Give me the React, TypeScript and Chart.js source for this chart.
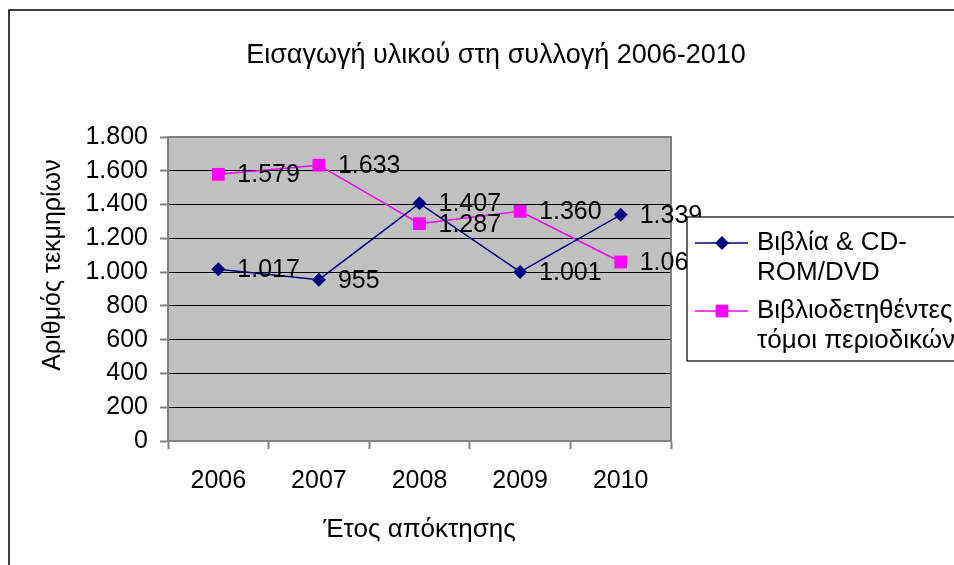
import React, { useEffect, useRef } from 'react';
import { Chart, registerables } from 'chart.js';

Chart.register(...registerables);

const chartTitle = 'Εισαγωγή υλικού στη συλλογή 2006-2010';
const xAxisTitle = 'Έτος απόκτησης';
const yAxisTitle = 'Αριθμός τεκμηρίων';
const years = ['2006', '2007', '2008', '2009', '2010'];
const booksLabel = ['Βιβλία & CD-', 'ROM/DVD'];
const journalsLabel = ['Βιβλιοδετηθέντες', 'τόμοι περιοδικών'];
const booksValues = [1017, 955, 1407, 1001, 1339];
const journalsValues = [1579, 1633, 1287, 1360, 1060];
const yMin = 0;
const yMax = 1800;
const yStep = 200;

const FONT = '"Liberation Sans", Arial, sans-serif';

const fmt = (v: number) => String(v).replace(/\B(?=(\d{3})+(?!\d))/g, '.');

function drawMarker(ctx: CanvasRenderingContext2D, style: string, x: number, y: number, r: number, color: string) {
  ctx.save();
  ctx.fillStyle = color;
  ctx.beginPath();
  if (style === 'rect') {
    const s = r * Math.SQRT1_2;
    ctx.rect(x - s, y - s, 2 * s, 2 * s);
  } else {
    ctx.moveTo(x - r, y);
    ctx.lineTo(x, y - r);
    ctx.lineTo(x + r, y);
    ctx.lineTo(x, y + r);
    ctx.closePath();
  }
  ctx.fill();
  ctx.restore();
}

const excelPlugin = {
  id: 'excelLook',
  beforeDraw(chart: any) {
    const { ctx, chartArea: a } = chart;
    ctx.save();
    ctx.fillStyle = '#C0C0C0';
    ctx.fillRect(a.left, a.top, a.right - a.left, a.bottom - a.top);
    ctx.strokeStyle = '#000';
    ctx.lineWidth = 1.5;
    ctx.strokeRect(9, 10, 1000, 600);
    ctx.fillStyle = '#000';
    ctx.textAlign = 'center';
    ctx.textBaseline = 'middle';
    ctx.font = `27px ${FONT}`;
    ctx.fillText(chartTitle, 496, 56);
    ctx.font = `26px ${FONT}`;
    ctx.fillText(xAxisTitle, (a.left + a.right) / 2, 530);
    ctx.font = `25px ${FONT}`;
    ctx.translate(53, 265);
    ctx.rotate(-Math.PI / 2);
    ctx.fillText(yAxisTitle, 0, 0);
    ctx.restore();
  },
  beforeDatasetsDraw(chart: any) {
    const { ctx, chartArea: a } = chart;
    ctx.save();
    ctx.strokeStyle = '#808080';
    ctx.lineWidth = 2;
    ctx.strokeRect(a.left, a.top, a.right - a.left, a.bottom - a.top);
    ctx.restore();
  },
  afterDatasetsDraw(chart: any) {
    const { ctx } = chart;
    ctx.save();
    ctx.fillStyle = '#000';
    ctx.font = `25px ${FONT}`;
    ctx.textAlign = 'left';
    ctx.textBaseline = 'middle';
    chart.data.datasets.forEach((ds: any, i: number) => {
      const meta = chart.getDatasetMeta(i);
      meta.data.forEach((pt: any, j: number) => {
        ctx.fillText(fmt(ds.data[j]), pt.x + 19, pt.y + 1);
      });
    });
    ctx.restore();
  },
  afterDraw(chart: any) {
    const { ctx } = chart;
    ctx.save();
    ctx.fillStyle = '#fff';
    ctx.fillRect(687, 217, 300, 144);
    ctx.strokeStyle = '#000';
    ctx.lineWidth = 1.2;
    ctx.strokeRect(687, 217, 300, 144);
    const labels = [booksLabel, journalsLabel];
    chart.data.datasets.forEach((ds: any, i: number) => {
      const y = 243 + i * 68;
      ctx.strokeStyle = ds.borderColor;
      ctx.lineWidth = 1.5;
      ctx.beginPath();
      ctx.moveTo(695, y);
      ctx.lineTo(748, y);
      ctx.stroke();
      drawMarker(ctx, ds.pointStyle, 722, y, ds.pointRadius, ds.borderColor);
      ctx.fillStyle = '#000';
      ctx.font = `26px ${FONT}`;
      ctx.textAlign = 'left';
      ctx.textBaseline = 'middle';
      labels[i].forEach((t, k) => ctx.fillText(t, 757, y + k * 30));
    });
    ctx.restore();
  },
};

export default function App() {
  const ref = useRef<HTMLCanvasElement>(null);
  useEffect(() => {
    if (!ref.current) return;
    const chart = new Chart(ref.current, {
      type: 'line',
      data: {
        labels: years,
        datasets: [
          {
            label: booksLabel.join(''),
            data: booksValues,
            borderColor: '#000080',
            backgroundColor: '#000080',
            borderWidth: 1.5,
            pointStyle: 'rectRot',
            pointRadius: 7,
            pointBorderWidth: 0,
            tension: 0,
          },
          {
            label: journalsLabel.join(' '),
            data: journalsValues,
            borderColor: '#FF00FF',
            backgroundColor: '#FF00FF',
            borderWidth: 1.5,
            pointStyle: 'rect',
            pointRadius: 9,
            pointBorderWidth: 0,
            tension: 0,
          },
        ],
      },
      options: {
        responsive: false,
        animation: false,
        events: [],
        layout: { padding: { left: 0, top: 137, right: 283, bottom: 0 } },
        plugins: { legend: { display: false }, title: { display: false }, tooltip: { enabled: false } },
        scales: {
          x: {
            offset: true,
            grid: { drawOnChartArea: false, offset: true, tickLength: 8, tickColor: '#808080', tickWidth: 2 },
            border: { display: true, color: '#808080', width: 2 },
            ticks: { color: '#000', font: { family: FONT, size: 25 }, padding: 17, maxRotation: 0 },
            afterFit: (s: any) => { s.height = 124; },
          },
          y: {
            min: yMin,
            max: yMax,
            grid: { color: '#000', lineWidth: 1, tickLength: 8, tickColor: '#808080', tickWidth: 2 },
            border: { display: true, color: '#808080', width: 2 },
            ticks: {
              stepSize: yStep,
              color: '#000',
              font: { family: FONT, size: 25 },
              padding: 12,
              callback: (v: any) => fmt(Number(v)),
            },
            afterFit: (s: any) => { s.width = 168; },
          },
        },
      },
      plugins: [excelPlugin],
    });
    return () => chart.destroy();
  }, []);
  return (
    <div style={{ position: 'absolute', left: 0, top: 0, width: 954, height: 565, background: '#fff' }}>
      <canvas ref={ref} width={954} height={565} style={{ display: 'block' }} />
    </div>
  );
}
